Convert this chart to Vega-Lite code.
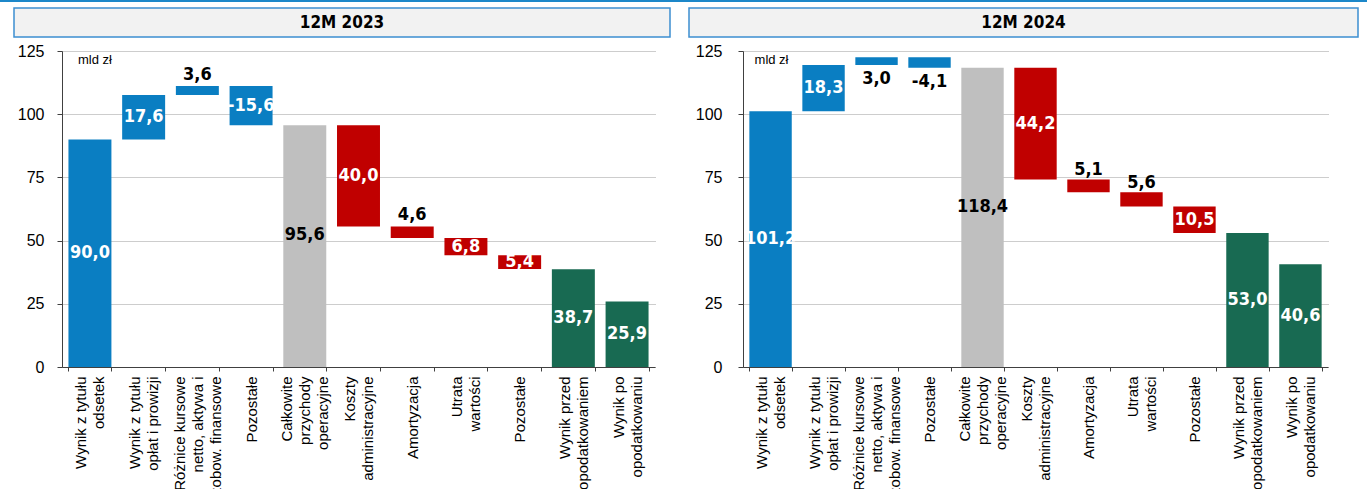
{
  "$schema": "https://vega.github.io/schema/vega-lite/v6.json",
  "padding": 0,
  "background": "white",
  "spacing": 5,
  "config": {
    "view": {"stroke": null},
    "font": "Liberation Sans"
  },
  "datasets": {
    "w": [
      {"panel": "12M 2023", "cat": "01|Wynik z tytułu|odsetek", "start": 0, "end": 90.0, "type": "inc", "lab": "90,0"},
      {"panel": "12M 2023", "cat": "02|Wynik z tytułu|opłat i prowizji", "start": 90.0, "end": 107.6, "type": "inc", "lab": "17,6"},
      {"panel": "12M 2023", "cat": "03|Różnice kursowe|netto, aktywa i|zobow. finansowe", "start": 107.6, "end": 111.2, "type": "inc", "lab": "3,6"},
      {"panel": "12M 2023", "cat": "04|Pozostałe", "start": 111.2, "end": 95.6, "type": "inc", "lab": "-15,6"},
      {"panel": "12M 2023", "cat": "05|Całkowite|przychody|operacyjne", "start": 0, "end": 95.6, "type": "total", "lab": "95,6"},
      {"panel": "12M 2023", "cat": "06|Koszty|administracyjne", "start": 95.6, "end": 55.6, "type": "dec", "lab": "40,0"},
      {"panel": "12M 2023", "cat": "07|Amortyzacja", "start": 55.6, "end": 51.0, "type": "dec", "lab": "4,6"},
      {"panel": "12M 2023", "cat": "08|Utrata|wartości", "start": 51.0, "end": 44.2, "type": "dec", "lab": "6,8"},
      {"panel": "12M 2023", "cat": "09|Pozostałe", "start": 44.2, "end": 38.8, "type": "dec", "lab": "5,4"},
      {"panel": "12M 2023", "cat": "10|Wynik przed|opodatkowaniem", "start": 0, "end": 38.7, "type": "result", "lab": "38,7"},
      {"panel": "12M 2023", "cat": "11|Wynik po|opodatkowaniu", "start": 0, "end": 25.9, "type": "result", "lab": "25,9"},
      {"panel": "12M 2024", "cat": "01|Wynik z tytułu|odsetek", "start": 0, "end": 101.2, "type": "inc", "lab": "101,2"},
      {"panel": "12M 2024", "cat": "02|Wynik z tytułu|opłat i prowizji", "start": 101.2, "end": 119.5, "type": "inc", "lab": "18,3"},
      {"panel": "12M 2024", "cat": "03|Różnice kursowe|netto, aktywa i|zobow. finansowe", "start": 119.5, "end": 122.5, "type": "inc", "lab": "3,0"},
      {"panel": "12M 2024", "cat": "04|Pozostałe", "start": 122.5, "end": 118.4, "type": "inc", "lab": "-4,1"},
      {"panel": "12M 2024", "cat": "05|Całkowite|przychody|operacyjne", "start": 0, "end": 118.4, "type": "total", "lab": "118,4"},
      {"panel": "12M 2024", "cat": "06|Koszty|administracyjne", "start": 118.4, "end": 74.2, "type": "dec", "lab": "44,2"},
      {"panel": "12M 2024", "cat": "07|Amortyzacja", "start": 74.2, "end": 69.1, "type": "dec", "lab": "5,1"},
      {"panel": "12M 2024", "cat": "08|Utrata|wartości", "start": 69.1, "end": 63.5, "type": "dec", "lab": "5,6"},
      {"panel": "12M 2024", "cat": "09|Pozostałe", "start": 63.5, "end": 53.0, "type": "dec", "lab": "10,5"},
      {"panel": "12M 2024", "cat": "10|Wynik przed|opodatkowaniem", "start": 0, "end": 53.0, "type": "result", "lab": "53,0"},
      {"panel": "12M 2024", "cat": "11|Wynik po|opodatkowaniu", "start": 0, "end": 40.6, "type": "result", "lab": "40,6"}
    ],
    "h": [
      {"panel": "12M 2023", "v": 0.5},
      {"panel": "12M 2024", "v": 0.5}
    ]
  },
  "vconcat": [
    {
      "spacing": 5,
      "vconcat": [
        {
          "width": 1367,
          "height": 2,
          "view": {"fill": "#1c87c9", "stroke": null},
          "data": {"values": [{"a": 1}]},
          "mark": {"type": "text", "fontSize": 1},
          "encoding": {"text": {"value": ""}}
        },
        {
          "spacing": 12,
          "hconcat": [
            {
              "width": 1,
              "height": 29,
              "view": {"fill": "#ffffff", "stroke": null},
              "data": {"values": [{"a": 1}]},
              "mark": {"type": "text", "fontSize": 1},
              "encoding": {"text": {"value": ""}}
            },
            {
              "spacing": 17,
              "hconcat": [
                {
                  "width": 656,
                  "height": 29,
                  "view": {"fill": "#f2f2f2", "stroke": "#3d8fd1", "strokeWidth": 1.5},
                  "data": {"name": "h"},
                  "transform": [{"filter": "datum.panel == '12M 2023'"}],
                  "mark": {"type": "text", "font": "DejaVu Sans Condensed, Liberation Sans Narrow, sans-serif", "fontWeight": "bold", "fontSize": 17, "color": "#000000"},
                  "encoding": {
                    "text": {"field": "panel"},
                    "y": {"field": "v", "type": "quantitative", "scale": {"domain": [0, 1]}, "axis": null}
                  }
                },
                {
                  "width": 669,
                  "height": 29,
                  "view": {"fill": "#f2f2f2", "stroke": "#3d8fd1", "strokeWidth": 1.5},
                  "data": {"name": "h"},
                  "transform": [{"filter": "datum.panel == '12M 2024'"}],
                  "mark": {"type": "text", "font": "DejaVu Sans Condensed, Liberation Sans Narrow, sans-serif", "fontWeight": "bold", "fontSize": 17, "color": "#000000"},
                  "encoding": {
                    "text": {"field": "panel"},
                    "y": {"field": "v", "type": "quantitative", "scale": {"domain": [0, 1]}, "axis": null}
                  }
                }
              ]
            }
          ]
        }
      ]
    },
    {
      "spacing": 0,
      "hconcat": [
        {
          "width": 55,
          "height": 316,
          "data": {"values": [{"v": 0}]},
          "mark": {"type": "point", "opacity": 0},
          "encoding": {
            "y": {
              "field": "v", "type": "quantitative",
              "scale": {"domain": [0, 125], "nice": false},
              "axis": {
                "title": null, "values": [0, 25, 50, 75, 100, 125], "offset": -55,
                "grid": false, "domain": false, "tickOpacity": 0, "tickSize": 5,
                "labelFont": "Liberation Sans", "labelFontSize": 16, "labelColor": "#000000",
                "labelPadding": 6, "minExtent": 0, "maxExtent": 0
              }
            }
          }
        },
        {
          "width": 593,
          "height": 316,
          "data": {"name": "w"},
          "transform": [{"filter": "datum.panel == '12M 2023'"}],
          "encoding": {
            "x": {
              "field": "cat", "type": "nominal",
              "scale": {"paddingInner": 0.2, "paddingOuter": 0.12},
              "axis": {
                "title": null,
                "labelExpr": "slice(split(datum.label, '|'), 1)",
                "labelAngle": 270,
                "labelFont": "Liberation Sans",
                "labelFontSize": 15,
                "labelLineHeight": 18,
                "labelColor": "#000000",
                "labelPadding": 5,
                "labelLimit": 0,
                "labelOverlap": false,
                "labelOffset": {
                  "condition": [
                    {"test": "length(split(datum.value, '|')) == 4", "value": -18},
                    {"test": "length(split(datum.value, '|')) == 3", "value": -9}
                  ],
                  "value": 0
                },
                "tickBand": "extent",
                "tickSize": 4,
                "tickColor": "#404040",
                "domainColor": "#404040"
              }
            }
          },
          "layer": [
            {
              "mark": {"type": "bar"},
              "encoding": {
                "y": {
                  "field": "start", "type": "quantitative",
                  "scale": {"domain": [0, 125], "nice": false},
                  "axis": {
                    "title": null, "values": [0, 25, 50, 75, 100, 125],
                    "grid": true, "gridDash": [1, 1], "gridColor": "#9a9a9a",
                    "domainColor": "#404040", "tickColor": "#404040", "tickSize": 5, "labels": false,
                    "minExtent": 0, "maxExtent": 0
                  }
                },
                "y2": {"field": "end"},
                "color": {
                  "field": "type", "type": "nominal",
                  "scale": {"domain": ["inc", "dec", "total", "result"], "range": ["#0a7ec2", "#c00000", "#bfbfbf", "#186a52"]},
                  "legend": null
                }
              }
            },
            {
              "transform": [
                {"filter": "indexof(['03','05','07'], slice(datum.cat, 0, 2)) < 0"},
                {"calculate": "(datum.start + datum.end) / 2", "as": "mid"}
              ],
              "mark": {"type": "text", "font": "DejaVu Sans Condensed, Liberation Sans Narrow, sans-serif", "fontWeight": "bold", "fontSize": 18, "color": "#ffffff"},
              "encoding": {"y": {"field": "mid", "type": "quantitative"}, "text": {"field": "lab"}}
            },
            {
              "transform": [
                {"filter": "slice(datum.cat, 0, 2) == '05'"},
                {"calculate": "(datum.start + datum.end) / 2", "as": "mid"}
              ],
              "mark": {"type": "text", "font": "DejaVu Sans Condensed, Liberation Sans Narrow, sans-serif", "fontWeight": "bold", "fontSize": 18, "color": "#000000", "dy": -11},
              "encoding": {"y": {"field": "mid", "type": "quantitative"}, "text": {"field": "lab"}}
            },
            {
              "transform": [
                {"filter": "indexof(['03','07'], slice(datum.cat, 0, 2)) >= 0"},
                {"calculate": "max(datum.start, datum.end)", "as": "top"}
              ],
              "mark": {"type": "text", "font": "DejaVu Sans Condensed, Liberation Sans Narrow, sans-serif", "fontWeight": "bold", "fontSize": 18, "color": "#000000", "dy": -11},
              "encoding": {"y": {"field": "top", "type": "quantitative"}, "text": {"field": "lab"}}
            },
            {
              "transform": [{"filter": "slice(datum.cat, 0, 2) == '01'"}],
              "mark": {"type": "text", "font": "Liberation Sans", "fontSize": 13, "color": "#000000", "align": "left", "dx": -12},
              "encoding": {"y": {"datum": 121.5}, "text": {"value": "mld zł"}}
            }
          ]
        },
        {
          "width": 81,
          "height": 316,
          "data": {"values": [{"v": 0}]},
          "mark": {"type": "point", "opacity": 0},
          "encoding": {
            "y": {
              "field": "v", "type": "quantitative",
              "scale": {"domain": [0, 125], "nice": false},
              "axis": {
                "title": null, "values": [0, 25, 50, 75, 100, 125], "offset": -81,
                "grid": false, "domain": false, "tickOpacity": 0, "tickSize": 5,
                "labelFont": "Liberation Sans", "labelFontSize": 16, "labelColor": "#000000",
                "labelPadding": 9, "minExtent": 0, "maxExtent": 0
              }
            }
          }
        },
        {
          "width": 585,
          "height": 316,
          "data": {"name": "w"},
          "transform": [{"filter": "datum.panel == '12M 2024'"}],
          "encoding": {
            "x": {
              "field": "cat", "type": "nominal",
              "scale": {"paddingInner": 0.2, "paddingOuter": 0.12},
              "axis": {
                "title": null,
                "labelExpr": "slice(split(datum.label, '|'), 1)",
                "labelAngle": 270,
                "labelFont": "Liberation Sans",
                "labelFontSize": 15,
                "labelLineHeight": 18,
                "labelColor": "#000000",
                "labelPadding": 5,
                "labelLimit": 0,
                "labelOverlap": false,
                "labelOffset": {
                  "condition": [
                    {"test": "length(split(datum.value, '|')) == 4", "value": -18},
                    {"test": "length(split(datum.value, '|')) == 3", "value": -9}
                  ],
                  "value": 0
                },
                "tickBand": "extent",
                "tickSize": 4,
                "tickColor": "#404040",
                "domainColor": "#404040"
              }
            }
          },
          "layer": [
            {
              "mark": {"type": "bar"},
              "encoding": {
                "y": {
                  "field": "start", "type": "quantitative",
                  "scale": {"domain": [0, 125], "nice": false},
                  "axis": {
                    "title": null, "values": [0, 25, 50, 75, 100, 125],
                    "grid": true, "gridDash": [1, 1], "gridColor": "#9a9a9a",
                    "domainColor": "#404040", "tickColor": "#404040", "tickSize": 5, "labels": false,
                    "minExtent": 0, "maxExtent": 0
                  }
                },
                "y2": {"field": "end"},
                "color": {
                  "field": "type", "type": "nominal",
                  "scale": {"domain": ["inc", "dec", "total", "result"], "range": ["#0a7ec2", "#c00000", "#bfbfbf", "#186a52"]},
                  "legend": null
                }
              }
            },
            {
              "transform": [
                {"filter": "indexof(['03','04','05','07','08'], slice(datum.cat, 0, 2)) < 0"},
                {"calculate": "(datum.start + datum.end) / 2", "as": "mid"}
              ],
              "mark": {"type": "text", "font": "DejaVu Sans Condensed, Liberation Sans Narrow, sans-serif", "fontWeight": "bold", "fontSize": 18, "color": "#ffffff"},
              "encoding": {"y": {"field": "mid", "type": "quantitative"}, "text": {"field": "lab"}}
            },
            {
              "transform": [
                {"filter": "slice(datum.cat, 0, 2) == '05'"},
                {"calculate": "(datum.start + datum.end) / 2", "as": "mid"}
              ],
              "mark": {"type": "text", "font": "DejaVu Sans Condensed, Liberation Sans Narrow, sans-serif", "fontWeight": "bold", "fontSize": 18, "color": "#000000", "dy": -10},
              "encoding": {"y": {"field": "mid", "type": "quantitative"}, "text": {"field": "lab"}}
            },
            {
              "transform": [
                {"filter": "indexof(['07','08'], slice(datum.cat, 0, 2)) >= 0"},
                {"calculate": "max(datum.start, datum.end)", "as": "top"}
              ],
              "mark": {"type": "text", "font": "DejaVu Sans Condensed, Liberation Sans Narrow, sans-serif", "fontWeight": "bold", "fontSize": 18, "color": "#000000", "dy": -9},
              "encoding": {"y": {"field": "top", "type": "quantitative"}, "text": {"field": "lab"}}
            },
            {
              "transform": [
                {"filter": "indexof(['03','04'], slice(datum.cat, 0, 2)) >= 0"},
                {"calculate": "min(datum.start, datum.end)", "as": "bot"}
              ],
              "mark": {"type": "text", "font": "DejaVu Sans Condensed, Liberation Sans Narrow, sans-serif", "fontWeight": "bold", "fontSize": 18, "color": "#000000", "dy": 14},
              "encoding": {"y": {"field": "bot", "type": "quantitative"}, "text": {"field": "lab"}}
            },
            {
              "transform": [{"filter": "slice(datum.cat, 0, 2) == '01'"}],
              "mark": {"type": "text", "font": "Liberation Sans", "fontSize": 13, "color": "#000000", "align": "left", "dx": -16},
              "encoding": {"y": {"datum": 121.5}, "text": {"value": "mld zł"}}
            }
          ]
        }
      ]
    }
  ]
}
